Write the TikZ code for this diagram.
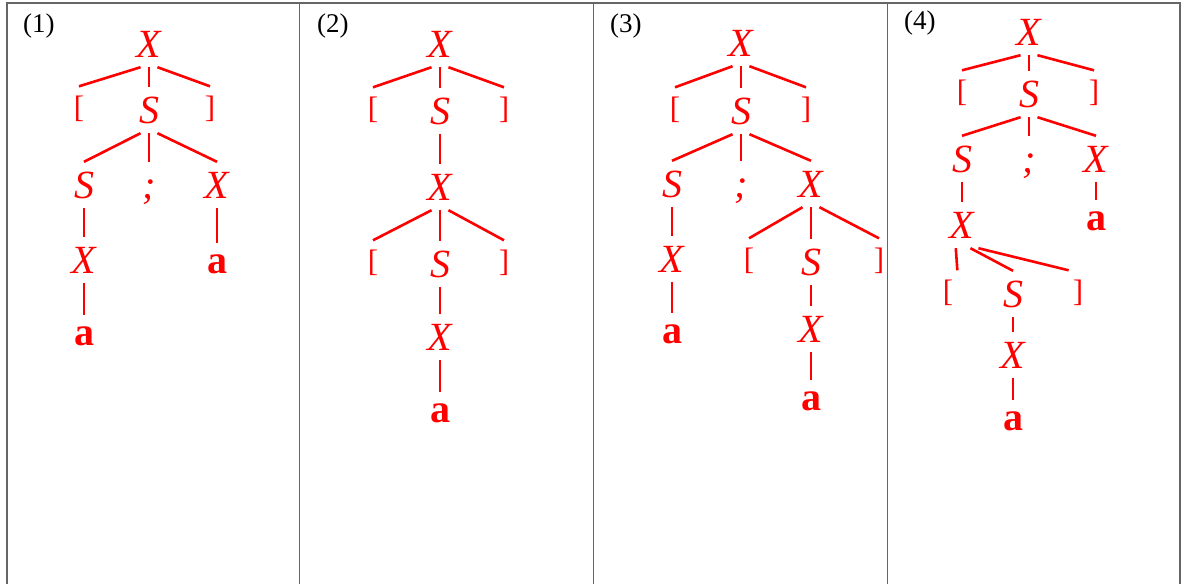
\documentclass[tikz,border=0pt]{standalone}
\usepackage{fontspec}
\setmainfont{Liberation Serif}

\begin{document}
\begin{tikzpicture}[
    x=1pt, y=-1pt,
    cell/.style={draw=black!60,line width=1.2pt},
    lbl/.style={anchor=base west,inner sep=0pt,font=\fontsize{27}{29}\selectfont},
    sym/.style={text=red,anchor=base,text height=26pt,text depth=0pt,
                inner xsep=4pt,inner ysep=10pt,font=\fontsize{40}{42}\selectfont\itshape},
    term/.style={sym,text height=20pt,font=\fontsize{40}{42}\selectfont\bfseries},
    brk/.style={sym,font=\fontsize{31}{33}\selectfont,text height=21pt,yshift=5.5pt},
    branch/.style={red,line width=2.6pt}
    ]
    \useasboundingbox (0,0) rectangle (1183,584);

    % table
    \draw[cell] (7,584) |- (1180,3) -- (1180,584);
    \foreach \x in {299.5,593.5,887.5}
      \draw[cell] (\x,3) -- (\x,584);

    \node (lbl1) [lbl] at (23,32) {(1)};
    \node (lbl2) [lbl] at (317,32) {(2)};
    \node (lbl3) [lbl] at (610,32) {(3)};
    \node (lbl4) [lbl] at (904,29) {(4)};

    % (1)
    \node (t1) [sym] at (149,57) {X};
    \node (lb1) [brk] at (79,123) {[};
    \node (s1) [sym] at (149,123) {S};
    \node (rb1) [brk] at (210,123) {]};
    \node (s1a) [sym] at (84,198) {S};
    \node (sc1) [sym] at (149,198) {;};
    \node (x1b) [sym] at (217,198) {X};
    \node (x1a) [sym] at (84,273) {X};
    \node (a1b) [term] at (217,273) {a};
    \node (a1a) [term] at (84,345) {a};

    \foreach \p/\c in {t1.250/lb1,t1.south/s1,t1.290/rb1,
                       s1.250/s1a,s1.south/sc1,s1.290/x1b,
                       s1a.south/x1a,x1a.south/a1a,x1b.south/a1b}
      \draw[branch] (\p) -- (\c.north);

    % (2)
    \node (t2) [sym] at (440,57) {X};
    \node (lb2) [brk] at (373,124) {[};
    \node (s2) [sym] at (440,124) {S};
    \node (rb2) [brk] at (504,124) {]};
    \node (x2) [sym] at (440,200) {X};
    \node (lc2) [brk] at (373,277) {[};
    \node (s2b) [sym] at (440,277) {S};
    \node (rc2) [brk] at (504,277) {]};
    \node (x2b) [sym] at (440,350) {X};
    \node (a2) [term] at (440,422) {a};

    \foreach \p/\c in {t2.250/lb2,t2.south/s2,t2.290/rb2,s2.south/x2,
                       x2.250/lc2,x2.south/s2b,x2.290/rc2,
                       s2b.south/x2b,x2b.south/a2}
      \draw[branch] (\p) -- (\c.north);

    % (3)
    \node (t3) [sym] at (741,56) {X};
    \node (lb3) [brk] at (675,124) {[};
    \node (s3) [sym] at (741,124) {S};
    \node (rb3) [brk] at (806,124) {]};
    \node (s3a) [sym] at (672,197) {S};
    \node (sc3) [sym] at (741,197) {;};
    \node (x3b) [sym] at (811,197) {X};
    \node (x3a) [sym] at (672,272) {X};
    \node (a3a) [term] at (672,343) {a};
    \node (lc3) [brk] at (749,275) {[};
    \node (s3b) [sym] at (811,275) {S};
    \node (rc3) [brk] at (879,275) {]};
    \node (x3c) [sym] at (811,342) {X};
    \node (a3b) [term] at (811,410) {a};

    \foreach \p/\c in {t3.250/lb3,t3.south/s3,t3.290/rb3,
                       s3.250/s3a,s3.south/sc3,s3.290/x3b,
                       s3a.south/x3a,x3a.south/a3a,
                       x3b.250/lc3,x3b.south/s3b,x3b.290/rc3,
                       s3b.south/x3c,x3c.south/a3b}
      \draw[branch] (\p) -- (\c.north);

    % (4)
    \node (t4) [sym] at (1029,45) {X};
    \node (lb4) [brk] at (962,107) {[};
    \node (s4) [sym] at (1029,107) {S};
    \node (rb4) [brk] at (1094,107) {]};
    \node (s4a) [sym] at (962,172) {S};
    \node (sc4) [sym] at (1029,172) {;};
    \node (x4b) [sym] at (1096,172) {X};
    \node (a4b) [term] at (1096,230) {a};
    \node (x4a) [sym] at (962,238) {X};
    \node (lc4) [brk] at (948,307) {[};
    \node (s4b) [sym] at (1013,307) {S};
    \node (rc4) [brk] at (1078,307) {]};
    \node (x4c) [sym] at (1013,368) {X};
    \node (a4a) [term] at (1013,430) {a};

    \foreach \p/\c in {t4.250/lb4,t4.south/s4,t4.290/rb4,
                       s4.250/s4a,s4.south/sc4,s4.290/x4b,
                       x4b.south/a4b,s4a.south/x4a,
                       s4b.south/x4c,x4c.south/a4a}
      \draw[branch] (\p) -- (\c.north);
    \draw[branch] (x4a.255) -- (lc4.north east);
    \draw[branch] (x4a.290) -- (s4b.north);
    \draw[branch] (x4a.south east) -- (rc4.north west);

\end{tikzpicture}
\end{document}
